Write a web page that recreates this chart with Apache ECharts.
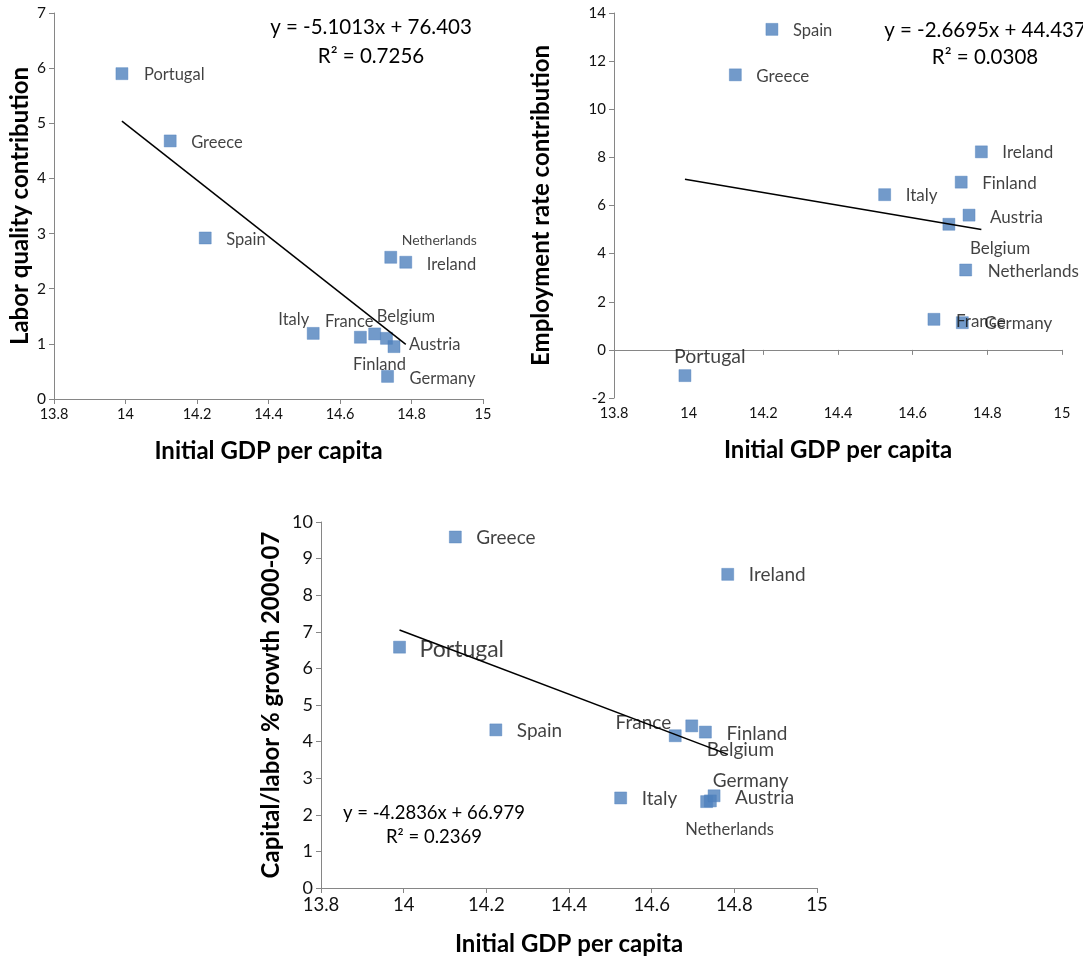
<!DOCTYPE html>
<html>
<head>
<meta charset="utf-8">
<script src="https://cdn.jsdelivr.net/npm/echarts@6/dist/echarts.min.js"></script>
<style>
html,body{margin:0;padding:0;background:#fff;}
#chart{width:1083px;height:960px;}
</style>
</head>
<body>
<div id="chart"></div>
<script>
// ---- Data ----
const countries = ["Portugal","Greece","Spain","Italy","France","Belgium","Finland","Germany","Netherlands","Austria","Ireland"];
const gdp = [13.99, 14.125, 14.223, 14.525, 14.657, 14.697, 14.730, 14.733, 14.742, 14.751, 14.784];
const laborQuality = [5.9, 4.68, 2.92, 1.19, 1.12, 1.18, 1.10, 0.41, 2.57, 0.95, 2.48];
const employmentRate = [-1.07, 11.43, 13.32, 6.45, 1.27, 5.22, 6.97, 1.13, 3.32, 5.6, 8.23];
const capitalLabor = [6.58, 9.59, 4.32, 2.46, 4.16, 4.43, 4.26, 2.36, 2.38, 2.52, 8.57];

// trendline end points
const trendX = [13.99, 14.784];
const trendLabor = [5.04, 0.99];
const trendEmp = [7.09, 5.0];
const trendCap = [7.05, 3.65];

const eqLabor = ["y = -5.1013x + 76.403", "R² = 0.7256"];
const eqEmp = ["y = -2.6695x + 44.437", "R² = 0.0308"];
const eqCap = ["y = -4.2836x + 66.979", "R² = 0.2369"];

const xTitle = "Initial GDP per capita";
const yTitles = ["Labor quality contribution", "Employment rate contribution", "Capital/labor % growth 2000-07"];

// ---- label placement (style, not data): [align, dx, dy, fontSize] ----
const lblLabor = [
  ["left",22,1,16.5],["left",21,2,16.5],["left",21,2,16.5],["right",-4,-14,16.5],["right",13,-16,16.5],
  ["left",2,-17,16.5],["center",-7,26,16.5],["left",22,2,16.5],["left",11,-17,14],["left",15,-2,16.5],["left",21,2,16.5]
];
const lblEmp = [
  ["left",-11,-19,19.5],["left",21,2,17],["left",21,1,16.5],["left",21,1,17],["left",22,2,17],
  ["left",21,24,17],["left",21,1,17],["left",22,1,17],["left",22,2,17],["left",21,2,17],["left",21,1,17]
];
const lblCap = [
  ["left",20,2,23],["left",21,1,19],["left",21,1,19],["left",21,1,19],["right",-4,-13,19],
  ["left",15,24,19],["left",21,2,19],["left",6,-21,19],["left",-25,29,16.5],["left",21,2,19],["left",21,1,19]
];

const FONT = "Lato, 'Open Sans', sans-serif";
const AXIS_COLOR = "#868686";
const TEXT_COLOR = "#111";

function buildPoints(ys, lbl){
  return countries.map((c,i)=>({
    name: c,
    value: [gdp[i], ys[i]],
    label: {
      show: true, formatter: c, position: 'inside',
      align: lbl[i][0], verticalAlign: 'middle',
      offset: [lbl[i][1], lbl[i][2]],
      fontSize: lbl[i][3], color: TEXT_COLOR, fontFamily: FONT
    }
  }));
}

function xAxisDef(gi, fs, gap){
  return {
    type:'value', gridIndex:gi, min:13.8, max:15, interval:0.2,
    name:xTitle, nameLocation:'middle', nameGap:gap,
    nameTextStyle:{fontSize:24, fontWeight:'bold', color:'#000', fontFamily:FONT},
    axisLine:{show:true, lineStyle:{color:AXIS_COLOR}},
    axisTick:{show:true, inside:false, length:5, lineStyle:{color:AXIS_COLOR}},
    splitLine:{show:false},
    axisLabel:{fontSize:fs, color:TEXT_COLOR, fontFamily:FONT, margin:8,
      formatter:v=>String(+v.toFixed(1))}
  };
}
function yAxisDef(gi, min, max, interval, fs, gap){
  return {
    type:'value', gridIndex:gi, min:min, max:max, interval:interval,
    name:yTitles[gi], nameLocation:'middle', nameGap:gap,
    nameTextStyle:{fontSize:24, fontWeight:'bold', color:'#000', fontFamily:FONT},
    axisLine:{show:true, lineStyle:{color:AXIS_COLOR}},
    axisTick:{show:true, inside:false, length:5, lineStyle:{color:AXIS_COLOR}},
    splitLine:{show:false},
    axisLabel:{fontSize:fs, color:TEXT_COLOR, fontFamily:FONT, margin:8}
  };
}
function scatter(gi, ys, lbl){
  return {
    type:'scatter', xAxisIndex:gi, yAxisIndex:gi, symbol:'rect', symbolSize:12,
    itemStyle:{color:'#4F81BD', borderColor:'#4A7EBB', borderWidth:0.5},
    data: buildPoints(ys, lbl), z:2, silent:true
  };
}
function trend(gi, ys){
  return {
    type:'line', xAxisIndex:gi, yAxisIndex:gi, symbol:'none',
    lineStyle:{color:'#000', width:1.5},
    data: trendX.map((x,i)=>[x, ys[i]]), z:3, silent:true
  };
}

const chart = echarts.init(document.getElementById('chart'), null, {renderer:'canvas'});
const option = {
  backgroundColor:'#fff',
  animation:false,
  grid:[
    {left:54, top:13, width:429, height:386},
    {left:614, top:13, width:448, height:385},
    {left:321, top:522, width:496, height:366}
  ],
  xAxis:[ xAxisDef(0,14.5,40), xAxisDef(1,14.5,40), xAxisDef(2,18.5,44) ],
  yAxis:[ yAxisDef(0,0,7,1,15.5,22), yAxisDef(1,-2,14,2,15,61), yAxisDef(2,0,10,1,18,38) ],
  series:[
    trend(0, trendLabor), scatter(0, laborQuality, lblLabor),
    trend(1, trendEmp), scatter(1, employmentRate, lblEmp),
    trend(2, trendCap), scatter(2, capitalLabor, lblCap)
  ]
};
chart.setOption(option);

// regression equation texts
const g = [];
function addEq(lines, cx, cy, fs, lh){
  lines.forEach((t,i)=>g.push({
    type:'text', x:cx, y:cy + i*lh, z:10,
    style:{text:t, fontSize:fs, fill:'#000', fontFamily:FONT, align:'center', verticalAlign:'middle'}
  }));
}
addEq(eqLabor, 371, 27, 20.5, 29);
addEq(eqEmp, 985, 30, 20.5, 27);
addEq(eqCap, 434, 813, 18.5, 24);
chart.setOption({graphic:g});
</script>
</body>
</html>
